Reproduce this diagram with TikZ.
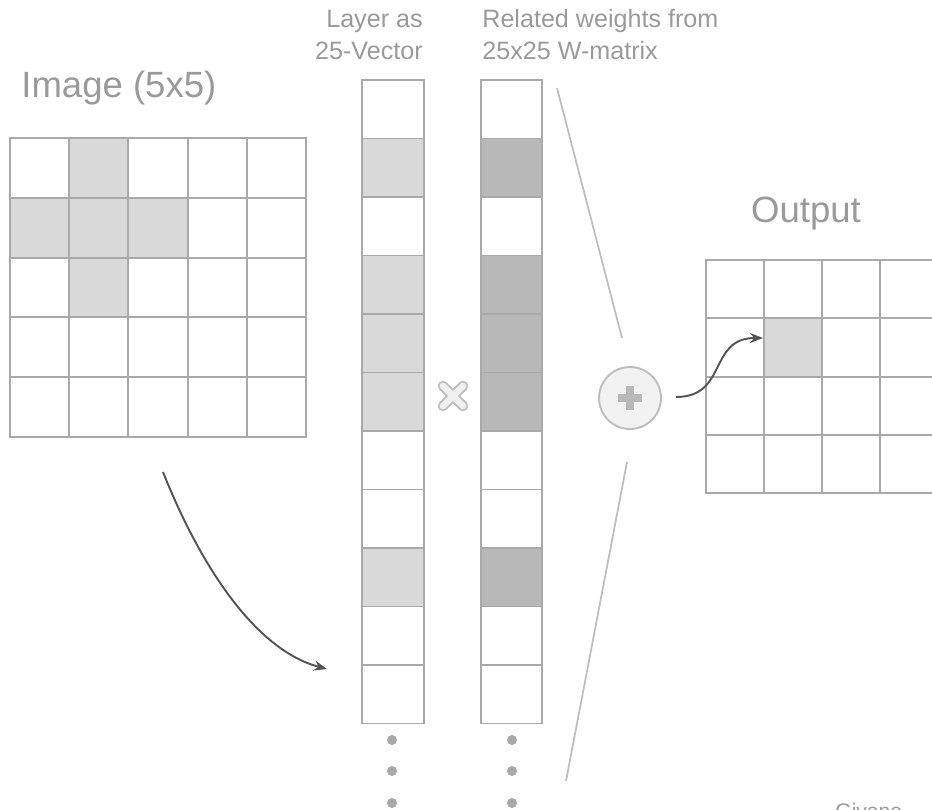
\documentclass[tikz,border=0pt]{standalone}
\usepackage{fontspec}
\setmainfont{Liberation Sans}
\usetikzlibrary{arrows.meta}

\definecolor{gridgray}{HTML}{A9A9A9}
\definecolor{lightcell}{HTML}{D9D9D9}
\definecolor{darkcell}{HTML}{B8B8B8}
\definecolor{textgray}{HTML}{9A9A9A}
\definecolor{linegray}{HTML}{BEBEBE}
\definecolor{arrowgray}{HTML}{555555}

\begin{document}
\begin{tikzpicture}[x=0.02cm,y=-0.02cm,
  imgcell/.style={draw=gridgray,line width=1.1pt,minimum width=1.184cm,minimum height=1.196cm,inner sep=0pt,outer sep=0pt},
  veccell/.style={draw=gridgray,line width=1.1pt,minimum width=1.23cm,minimum height=1.17cm,inner sep=0pt,outer sep=0pt},
  outcell/.style={draw=gridgray,line width=1.1pt,minimum width=1.16cm,minimum height=1.166cm,inner sep=0pt,outer sep=0pt},
  bigtext/.style={text=textgray,inner sep=0pt,font=\fontsize{20.8}{24}\selectfont},
  smalltext/.style={text=textgray,inner sep=0pt,font=\fontsize{14.3}{18}\selectfont},
  flow/.style={draw=arrowgray,line width=1.1pt,-{Stealth[length=0.26cm,width=0.2cm]}}]

\useasboundingbox (0,0) rectangle (932,810);
\clip (0,0) rectangle (932,810);

% Image (5x5)
\node[bigtext,anchor=base west] (imgtitle) at (21,98) {Image (5x5)};
\foreach \r/\cells in {0/{white,lightcell,white,white,white},
                       1/{lightcell,lightcell,lightcell,white,white},
                       2/{white,lightcell,white,white,white},
                       3/{white,white,white,white,white},
                       4/{white,white,white,white,white}}
  \foreach \f [count=\c from 0] in \cells
    \node[imgcell,fill=\f] (img-\r-\c) at ({39.6+59.2*\c},{167.9+59.8*\r}) {};

% Layer as vector
\node[smalltext,anchor=north east,align=right] (vectitle) at (423,10) {Layer as\\25-Vector};
\foreach \f [count=\i from 0] in {white,lightcell,white,lightcell,lightcell,lightcell,white,white,lightcell,white,white}
  \node[veccell,fill=\f] (vec-\i) at (393,{109.25+58.5*\i}) {};

% Related weights
\node[smalltext,anchor=north west,align=left] (wtitle) at (482,9) {Related weights from\\25x25 W-matrix};
\foreach \f [count=\i from 0] in {white,darkcell,white,darkcell,darkcell,darkcell,white,white,darkcell,white,white}
  \node[veccell,fill=\f] (w-\i) at (511.5,{109.25+58.5*\i}) {};

% Dots below the columns
\foreach \y in {740,771,803} {
  \fill[gridgray] (392,\y) circle (0.1cm);
  \fill[gridgray] (512,\y) circle (0.1cm);
}

% Times sign
\coordinate (times) at (453,396);
\draw[linegray,line width=6pt,line cap=round] (times)+(-10,-10) -- +(10,10) (times)+(-10,10) -- +(10,-10);
\draw[white!94!black,line width=3.8pt,line cap=round] (times)+(-10,-10) -- +(10,10) (times)+(-10,10) -- +(10,-10);

% Sum
\node[circle,draw=linegray,fill=white!95!black,line width=1.1pt,minimum size=1.24cm,inner sep=0pt] (sum) at (630,398) {};
\draw[darkcell,line width=4pt] (sum.center)+(-12,0) -- +(12,0) (sum.center)+(0,-12) -- +(0,12);

% Lines towards the sum
\coordinate (wtop) at (557,88);
\coordinate (sumtop) at (622,338);
\coordinate (sumbot) at (627,462);
\coordinate (wbot) at (566,781);
\draw[linegray,line width=1pt] (wtop) -- (sumtop);
\draw[linegray,line width=1pt] (sumbot) -- (wbot);

% Output
\node[bigtext,anchor=base] (outtitle) at (806,223) {Output};
\foreach \r/\cells in {0/{white,white,white,white},
                       1/{white,lightcell,white,white},
                       2/{white,white,white,white},
                       3/{white,white,white,white}}
  \foreach \f [count=\c from 0] in \cells
    \node[outcell,fill=\f] (out-\r-\c) at ({735+58*\c},{289.2+58.3*\r}) {};

% Arrows
\coordinate (imgout) at (163,472);
\coordinate (vecin) at (327,669);
\draw[flow] (imgout) .. controls (200,565) and (255,650) .. (vecin);
\coordinate (sumout) at (676,397);
\coordinate (cellin) at (763,338);
\draw[flow] (sumout) .. controls (728,397) and (708,338) .. (cellin);

% Signature
\node[text=textgray,inner sep=0pt,anchor=north west,font=\fontsize{12}{14}\selectfont] (sign) at (835,803) {Givane};

\end{tikzpicture}
\end{document}
